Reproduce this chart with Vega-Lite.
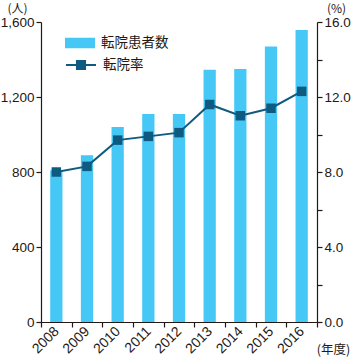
{
  "$schema": "https://vega.github.io/schema/vega-lite/v6.json",
  "autosize": {"type": "none"},
  "padding": {"left": 41, "top": 22, "right": 36, "bottom": 35},
  "width": 276,
  "height": 300,
  "background": "white",
  "config": {
    "view": {"stroke": null},
    "font": "Liberation Sans",
    "axis": {
      "labelFont": "Liberation Sans",
      "labelFontSize": 13.5,
      "labelColor": "#231815",
      "titleFont": "Noto Sans CJK JP",
      "titleFontSize": 12,
      "titleFontWeight": "normal",
      "titleColor": "#231815",
      "domainColor": "#231815",
      "tickColor": "#231815",
      "domainWidth": 1.2,
      "tickWidth": 1.2,
      "tickSize": 5,
      "grid": false
    },
    "legend": {
      "labelFont": "Noto Sans CJK JP",
      "labelFontSize": 13.5,
      "labelColor": "#231815"
    }
  },
  "data": {
    "values": [
      {"year": "2008", "patients": 810, "rate": 8.0, "s1": "転院患者数", "s2": "転院率"},
      {"year": "2009", "patients": 890, "rate": 8.3, "s1": "転院患者数", "s2": "転院率"},
      {"year": "2010", "patients": 1040, "rate": 9.7, "s1": "転院患者数", "s2": "転院率"},
      {"year": "2011", "patients": 1110, "rate": 9.9, "s1": "転院患者数", "s2": "転院率"},
      {"year": "2012", "patients": 1110, "rate": 10.1, "s1": "転院患者数", "s2": "転院率"},
      {"year": "2013", "patients": 1345, "rate": 11.6, "s1": "転院患者数", "s2": "転院率"},
      {"year": "2014", "patients": 1350, "rate": 11.0, "s1": "転院患者数", "s2": "転院率"},
      {"year": "2015", "patients": 1470, "rate": 11.4, "s1": "転院患者数", "s2": "転院率"},
      {"year": "2016", "patients": 1557, "rate": 12.3, "s1": "転院患者数", "s2": "転院率"}
    ]
  },
  "encoding": {
    "x": {
      "field": "year",
      "type": "ordinal",
      "scale": {"paddingInner": 0, "paddingOuter": 0},
      "axis": {
        "title": "(年度)",
        "titleX": 292,
        "titleY": 27,
        "titleAlign": "center",
        "titleBaseline": "middle",
        "titleFontSize": 12.5,
        "labelAngle": -45,
        "labelAlign": "right",
        "labelBaseline": "middle",
        "labelFontSize": 14,
        "labelPadding": 2,
        "tickBand": "extent"
      }
    }
  },
  "layer": [
    {
      "mark": {"type": "bar", "width": {"band": 0.4}},
      "encoding": {
        "y": {
          "field": "patients",
          "type": "quantitative",
          "scale": {"domain": [0, 1600]},
          "axis": {
            "title": "(人)",
            "values": [0, 400, 800, 1200, 1600],
            "format": ",.0f",
            "labelPadding": 2,
            "titleAngle": 0,
            "titleX": -24,
            "titleY": -14,
            "titleAlign": "center",
            "titleBaseline": "middle",
            "titleFontSize": 12
          }
        },
        "fill": {
          "field": "s1",
          "type": "nominal",
          "scale": {"range": ["#45c8f5"]},
          "legend": {
            "title": null,
            "orient": "none",
            "legendX": 24,
            "legendY": 6,
            "symbolType": "M-1,-0.35H1V0.35H-1Z",
            "symbolSize": 900,
            "symbolStrokeWidth": 0,
            "labelOffset": 6
          }
        }
      }
    },
    {
      "layer": [
        {
          "mark": {"type": "line", "strokeWidth": 2},
          "encoding": {
            "stroke": {
              "field": "s2",
              "type": "nominal",
              "scale": {"range": ["#0e5a80"]},
              "legend": {
                "title": null,
                "orient": "none",
                "legendX": 24,
                "legendY": 27,
                "symbolType": "M-1,0H1M-0.27,-0.27H0.27V0.27H-0.27Z",
                "symbolSize": 900,
                "symbolFillColor": "#0e5a80",
                "symbolStrokeWidth": 2,
                "labelOffset": 6
              }
            }
          }
        },
        {
          "mark": {"type": "point", "shape": "square", "filled": true, "size": 90, "color": "#0e5a80", "opacity": 1},
          "encoding": {}
        }
      ],
      "encoding": {
        "y": {
          "field": "rate",
          "type": "quantitative",
          "scale": {"domain": [0, 16]},
          "axis": {
            "orient": "right",
            "title": "(%)",
            "values": [0, 2, 4, 6, 8, 10, 12, 14, 16],
            "labelExpr": "datum.value % 4 === 0 ? format(datum.value, '.1f') : ''",
            "labelPadding": 2,
            "titleAngle": 0,
            "titleX": 19,
            "titleY": -14,
            "titleAlign": "center",
            "titleBaseline": "middle",
            "titleFontSize": 12
          }
        }
      }
    }
  ],
  "resolve": {"scale": {"y": "independent", "fill": "independent", "stroke": "independent"}}
}
